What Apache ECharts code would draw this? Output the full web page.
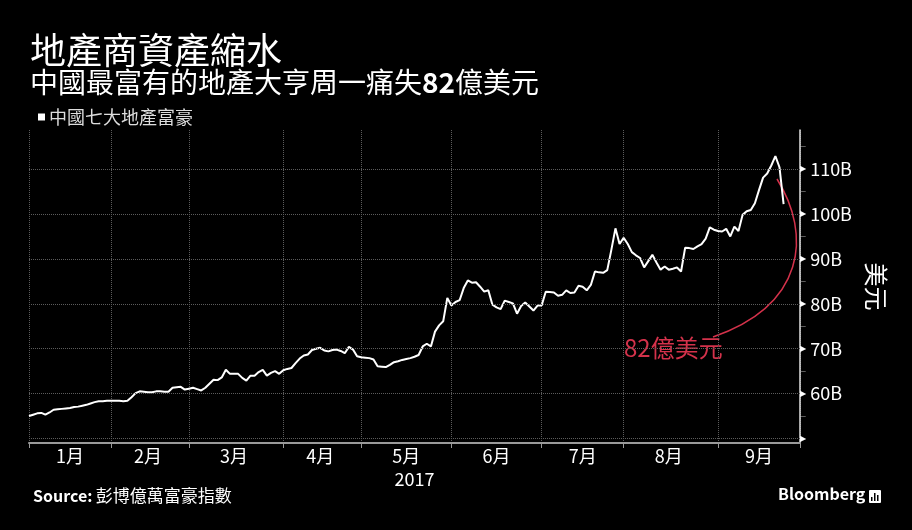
<!DOCTYPE html>
<html>
<head>
<meta charset="utf-8">
<title>地產商資產縮水</title>
<script src="https://cdn.jsdelivr.net/npm/echarts@6.0.0/dist/echarts.min.js"></script>
<style>
  html, body { margin: 0; padding: 0; background: #000; }
  #container { width: 912px; height: 530px; }
</style>
</head>
<body>
<div id="container"></div>
<script>
const FONT = '"Noto Sans CJK TC", "Noto Sans", sans-serif';

// 美國交易日假期 (2017)
const holidays = ['2017-01-02', '2017-01-16', '2017-02-20', '2017-04-14', '2017-05-29', '2017-07-04', '2017-09-04'];
const monthLabels = ['1月', '2月', '3月', '4月', '5月', '6月', '7月', '8月', '9月'];
const gridValues = [50, 60, 70, 80, 90, 100, 110];

// 中國七大地產富豪 身家 (十億美元), 每個交易日
const wealth = [
  55.0, 55.3, 55.6, 55.7, 55.3, 55.8, 56.4, 56.5, 56.6, 56.7,
  56.8, 57.0, 57.1, 57.3, 57.5, 57.8, 58.1, 58.3, 58.3, 58.4,
  58.4, 58.4, 58.4, 58.3, 58.4, 59.2, 60.1, 60.5, 60.4, 60.3,
  60.3, 60.5, 60.5, 60.4, 60.4, 61.3, 61.4, 61.5, 60.9, 61.1,
  61.3, 61.0, 60.7, 61.3, 62.2, 63.1, 63.0, 63.6, 65.3, 64.4,
  64.4, 64.4, 63.5, 62.9, 64.0, 64.0, 64.8, 65.3, 64.0, 64.6,
  65.0, 64.4, 65.2, 65.5, 65.7, 66.8, 67.8, 68.5, 68.7, 69.7,
  70.0, 70.2, 69.6, 69.4, 69.7, 69.8, 69.5, 69.0, 70.4, 69.8,
  68.3, 68.1, 68.0, 67.9, 67.6, 66.1, 66.0, 65.9, 66.4, 67.0,
  67.2, 67.5, 67.7, 67.9, 68.2, 68.6, 70.5, 71.1, 70.5, 73.8,
  75.2, 76.1, 81.3, 79.6, 80.4, 80.8, 83.5, 85.2, 84.7, 84.8,
  83.8, 82.7, 83.0, 79.8, 79.2, 78.8, 80.7, 80.4, 80.1, 77.8,
  79.5, 80.3, 79.4, 78.5, 79.6, 79.6, 82.7, 82.6, 82.5, 81.8,
  82.0, 83.0, 82.4, 82.5, 84.0, 83.8, 83.0, 84.2, 87.2, 87.0,
  86.9, 87.5, 92.0, 96.8, 93.3, 94.7, 93.3, 91.5, 90.8, 90.2,
  88.1, 89.5, 90.9, 89.2, 87.6, 88.3, 87.6, 87.8, 88.1, 87.2,
  92.5, 92.4, 92.2, 92.8, 93.3, 94.5, 97.0, 96.5, 96.2, 96.1,
  96.7, 95.0, 97.2, 96.2, 99.8, 100.6, 100.9, 102.4, 105.3, 108.1,
  109.0, 110.8, 112.9, 110.4, 102.2
];

// 交易日列表 (軸延伸到10月2日)
const days = [];
for (let t = Date.UTC(2017, 0, 1); t <= Date.UTC(2017, 9, 2); t += 86400000) {
  const d = new Date(t);
  const wd = d.getUTCDay();
  const s = d.toISOString().slice(0, 10);
  if (wd === 0 || wd === 6 || holidays.includes(s)) continue;
  days.push(s);
}

// 每月第一個交易日 (網格線) 和月中 (標籤)
const tickIdx = new Set();
const midIdx = new Set();
let start = 0;
for (let i = 1; i <= days.length; i++) {
  if (i === days.length || days[i].slice(5, 7) !== days[i - 1].slice(5, 7)) {
    tickIdx.add(start);
    if (parseInt(days[start].slice(5, 7), 10) <= 9) {
      midIdx.add(start + Math.floor((i - start) / 2));
    }
    start = i;
  }
}
tickIdx.add(days.length - 1);

const chartIns = echarts.init(document.getElementById('container'));

const option = {
  backgroundColor: '#000',
  animation: false,
  title: {
    text: '地產商資產縮水',
    subtext: '中國最富有的地產大亨周一痛失{b|82}億美元',
    left: 30,
    top: 32,
    padding: 0,
    itemGap: 0,
    textStyle: { color: '#fff', fontSize: 36, fontWeight: 'normal', fontFamily: FONT },
    subtextStyle: {
      color: '#fff', fontSize: 28, fontFamily: FONT,
      rich: { b: { color: '#fff', fontSize: 28, fontWeight: 'bold', fontFamily: FONT } }
    }
  },
  legend: {
    left: 33,
    top: 103,
    icon: 'rect',
    itemWidth: 7,
    itemHeight: 7,
    textStyle: { color: '#ddd', fontSize: 18, fontFamily: FONT, padding: [0, 0, 0, -1] }
  },
  grid: { left: 29, right: 112, top: 130, bottom: 87 },
  xAxis: {
    type: 'category',
    data: days,
    boundaryGap: false,
    name: '2017',
    nameLocation: 'middle',
    nameGap: 26,
    nameTextStyle: { color: '#fff', fontSize: 18, fontFamily: FONT },
    axisLine: { lineStyle: { color: '#9a9a9a', width: 2 } },
    axisTick: { interval: (i) => tickIdx.has(i), length: 5, lineStyle: { color: '#9a9a9a' } },
    axisLabel: {
      interval: (i) => midIdx.has(i),
      formatter: (v) => monthLabels[parseInt(v.slice(5, 7), 10) - 1],
      color: '#fff', fontSize: 18, fontFamily: FONT, margin: 4
    },
    splitLine: { show: true, interval: (i) => tickIdx.has(i), lineStyle: { color: '#5c5c5c', type: 'dotted' } }
  },
  yAxis: {
    type: 'value',
    position: 'right',
    min: 49,
    max: 118.7,
    interval: 1,
    name: '美元',
    nameLocation: 'middle',
    nameRotate: -90,
    nameGap: 64,
    nameTextStyle: { color: '#fff', fontSize: 24, fontFamily: FONT },
    axisLine: { show: true, lineStyle: { color: '#e0e0e0', width: 1.5 } },
    axisTick: { show: false },
    splitLine: { show: false },
    axisLabel: {
      margin: 0,
      hideOverlap: false,
      formatter: (v) => {
        const r = Math.round(v);
        if (Math.abs(v - r) > 1e-6) return '';
        if (r % 10 === 0 && r >= 50 && r <= 110) {
          return r >= 60 ? '{t|▶}{v|' + r + 'B}' : '{t|▶}';
        }
        if (r % 5 === 0 && r > 50 && r < 118) return '{m|—}';
        return '';
      },
      rich: {
        t: { color: '#fff', fontSize: 8, fontFamily: 'DejaVu Sans' },
        v: { color: '#fff', fontSize: 18, fontFamily: FONT, padding: [0, 0, 0, 4] },
        m: { color: '#c8c8c8', fontSize: 6, lineHeight: 6, fontFamily: 'DejaVu Sans' }
      }
    }
  },
  series: [
    {
      name: '中國七大地產富豪',
      type: 'line',
      data: wealth,
      showSymbol: false,
      lineStyle: { color: '#fff', width: 2 },
      itemStyle: { color: '#fff' },
      markLine: {
        silent: true,
        symbol: 'none',
        label: { show: false },
        lineStyle: { color: '#5c5c5c', type: 'dotted', width: 1 },
        data: gridValues.map((v) => ({ yAxis: v }))
      }
    }
  ],
  graphic: [
    {
      type: 'bezierCurve',
      shape: { x1: 777, y1: 179, cpx1: 812, cpy1: 235, cpx2: 805, cpy2: 305, x2: 713, y2: 337 },
      style: { stroke: '#d4324b', lineWidth: 1.5, fill: null }
    },
    {
      type: 'text',
      left: 624,
      top: 336,
      style: { text: '82億美元', fill: '#d4324b', fontSize: 24, fontFamily: FONT }
    },
    {
      type: 'text',
      left: 33,
      top: 487,
      style: {
        text: '{b|Source:} {n|彭博億萬富豪指數}',
        rich: {
          b: { fill: '#fff', fontSize: 16, fontWeight: 'bold', fontFamily: FONT },
          n: { fill: '#fff', fontSize: 17, fontFamily: FONT }
        }
      }
    },
    {
      type: 'text',
      left: 778,
      top: 486,
      style: { text: 'Bloomberg', fill: '#fff', fontSize: 16, fontWeight: 'bold', fontFamily: FONT }
    },
    {
      type: 'group',
      left: 869,
      top: 490,
      children: [
        { type: 'rect', shape: { x: 0, y: 0, width: 12, height: 13, r: 1 }, style: { fill: '#fff' } },
        { type: 'rect', shape: { x: 2, y: 7, width: 1.5, height: 4 }, style: { fill: '#000' } },
        { type: 'rect', shape: { x: 5, y: 3, width: 1.5, height: 8 }, style: { fill: '#000' } },
        { type: 'rect', shape: { x: 8, y: 5, width: 1.5, height: 6 }, style: { fill: '#000' } }
      ]
    }
  ]
};

chartIns.setOption(option);
</script>
</body>
</html>
